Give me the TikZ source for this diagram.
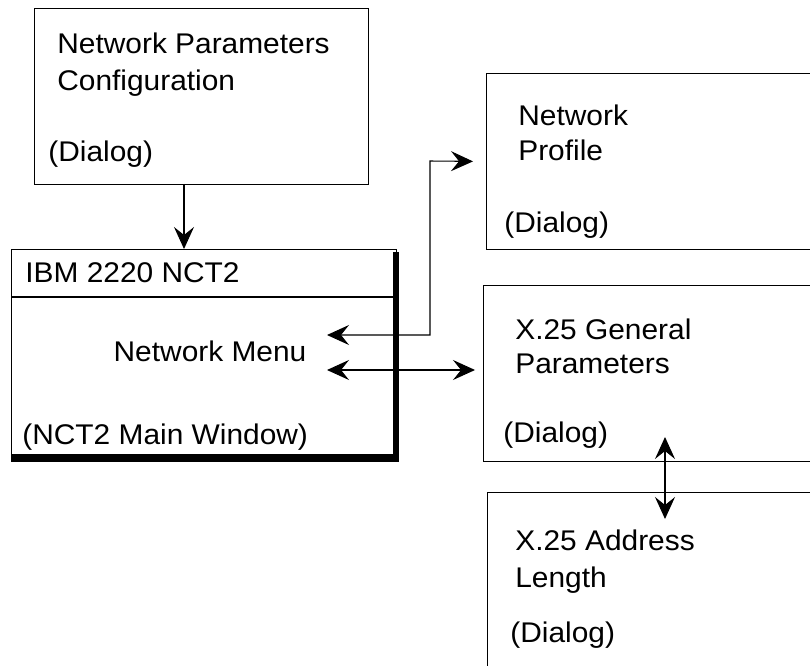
\documentclass[tikz,border=0pt]{standalone}
\usepackage{fontspec}
\setmainfont{Liberation Sans}[FakeStretch=1.05]
\usetikzlibrary{arrows.meta}

\begin{document}
\begin{tikzpicture}[x=0.02cm, y=-0.02cm]

\tikzset{box/.style = {shape=rectangle,draw,line width=0.6pt,anchor=north west,inner sep=0pt}}
\tikzset{txt/.style = {anchor=base west,inner sep=0pt,font=\fontsize{16.2pt}{19pt}\selectfont}}
\tikzset{edge/.style = {line width=0.6pt,> = {Stealth[length=0.44cm,width=0.4cm,inset=0.16cm]}}}

\useasboundingbox (0,0) rectangle (810,665);
\clip (0,0) rectangle (810,665);

%boxes
\node[box, minimum width=6.68cm, minimum height=3.52cm] (cfg) at (34,8) {};
\fill (392.5,252) rectangle (399,462);
\fill (11,453.5) rectangle (399,462);
\node[box, minimum width=7.7cm, minimum height=4.14cm] (main) at (11,249) {};
\draw[line width=0.6pt] (main.west |- 0,297) -- (main.east |- 0,297);
\node[box, minimum width=8.28cm, minimum height=3.52cm] (prof) at (486,73) {};
\node[box, minimum width=8.34cm, minimum height=3.52cm] (gen) at (483,285) {};
\node[box, minimum width=8.26cm, minimum height=4.56cm] (addr) at (487,492) {};

%texts
\node[txt] (cfg1) at (57,54) {Network Parameters};
\node[txt] (cfg2) at (57,91) {Configuration};
\node[txt] (cfg3) at (48,162) {(Dialog)};
\node[txt] (main1) at (25,282) {IBM 2220 NCT2};
\node[txt, anchor=base] (menu) at (210,361) {Network Menu};
\node[txt] (main3) at (22,444) {(NCT2 Main Window)};
\node[txt] (prof1) at (518,126) {Network};
\node[txt] (prof2) at (518,161) {Profile};
\node[txt] (prof3) at (504,233) {(Dialog)};
\node[txt] (gen1) at (515,339) {X.25 General};
\node[txt] (gen2) at (515,373) {Parameters};
\node[txt] (gen3) at (503,442) {(Dialog)};
\node[txt] (addr1) at (515,550) {X.25 Address};
\node[txt] (addr2) at (515,587) {Length};
\node[txt] (addr3) at (510,642) {(Dialog)};

%edges
\coordinate (cfgout) at (184,184);
\coordinate (menuup) at (327,335);
\coordinate (bend) at (430,161);
\coordinate (menulo) at (327,370);
\coordinate (gentip) at (665,437);
\coordinate (addrtip) at (665,519);
\draw[edge, ->] (cfgout) -- (cfgout |- main.north);
\draw[edge, <->, shorten >=0.26cm] (menuup) -| (bend) -- (prof.west);
\draw[edge, <->, shorten >=0.16cm] (menulo) -- (menulo -| gen.west);
\draw[edge, <->] (gentip) -- (addrtip);

\end{tikzpicture}
\end{document}
